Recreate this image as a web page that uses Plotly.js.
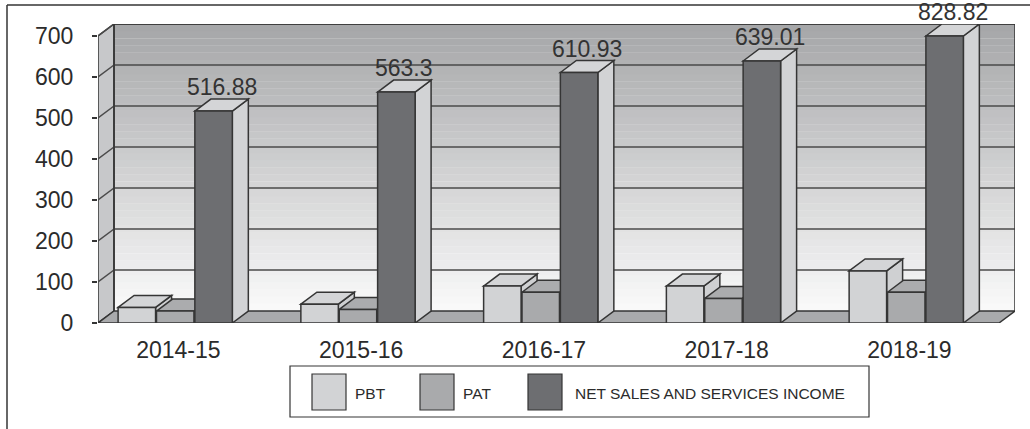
<!DOCTYPE html>
<html><head><meta charset="utf-8">
<script src="https://cdn.plot.ly/plotly-3.0.1.min.js"></script>
<style>html,body{margin:0;padding:0;background:#fff;} #chart{width:1030px;height:429px;}</style>
</head><body><div id="chart"></div>
<script>
// ---- data ----
const categories = ['2014-15','2015-16','2016-17','2017-18','2018-19'];
const pbt = [38, 46, 90, 90, 127];
const pat = [29, 33, 75, 60, 75];
const netSales = [516.88, 563.3, 610.93, 639.01, 828.82];
const netLabels = ['516.88','563.3','610.93','639.01','828.82'];
const seriesNames = ['PBT','PAT','NET SALES AND SERVICES INCOME'];
const yTicks = [0,100,200,300,400,500,600,700];

// ---- styling / geometry ----
const W=1030, H=429, mL=98, mR=15, mT=24, mB=106;
const plotW = W-mL-mR, plotH = H-mT-mB;
const yMax = 700;
const DYpx = 12, DXpx = 16;
const pxPerY = (plotH-DYpx)/yMax;
const DY = DYpx/pxPerY;
const yTop = yMax + DY;
const xL = -0.44, xF = 4.49;
const pxPerX = (plotW-DXpx)/(xF-xL);
const DX = DXpx/pxPerX;
const bw = 0.205, step = 0.21, start = -0.33;
const line = '#353535';
const front = ['#d2d3d5','#a9aaac','#6d6e71'];
const topc  = ['#d4d5d7','#abacae','#d4d5d7'];
const sidec = ['#cfd0d2','#a6a7a9','#d2d3d5'];
const series = [pbt, pat, netSales];
const font = 'Liberation Sans, Arial, sans-serif';

const px2paperX = p => (p-mL)/plotW;
const px2paperY = p => (mT+plotH-p)/plotH;

const shapes = [];
// back wall gradient bands
const nb = 40;
const c0=[165,166,168], c1=[250,250,250];
for(let i=0;i<nb;i++){
  const t=(i+0.5)/nb;
  const c=c1.map((v,k)=>Math.round(v+(c0[k]-v)*t));
  shapes.push({type:'rect',layer:'below',xref:'x',yref:'y',x0:xL+DX,x1:xF+DX,
    y0:DY+(yTop-DY)*i/nb,y1:DY+(yTop-DY)*(i+1)/nb+0.5,
    fillcolor:`rgb(${c.join(',')})`,line:{width:0}});
}
// left wall
shapes.push({type:'path',layer:'below',xref:'x',yref:'y',
  path:`M${xL},0 L${xL+DX},${DY} L${xL+DX},${yTop} L${xL},${yMax} Z`,
  fillcolor:'#c7c8ca',line:{color:line,width:1.5}});
// gridlines
yTicks.forEach(v=>{
  if(v===0) return;
  shapes.push({type:'line',layer:'below',xref:'x',yref:'y',x0:xL+DX,x1:xF+DX,y0:v+DY,y1:v+DY,line:{color:'#4a4a4a',width:1.5}});
  shapes.push({type:'line',layer:'below',xref:'x',yref:'y',x0:xL,x1:xL+DX,y0:v,y1:v+DY,line:{color:'#4a4a4a',width:1.5}});
});
// back wall outline
shapes.push({type:'path',layer:'below',xref:'x',yref:'y',
  path:`M${xL+DX},${DY} L${xL+DX},${yTop} L${xF+DX},${yTop} L${xF+DX},${DY}`,
  line:{color:line,width:1.5}});
// floor
shapes.push({type:'path',layer:'below',xref:'x',yref:'y',
  path:`M${xL},0 L${xL+DX},${DY} L${xF+DX},${DY} L${xF},0 Z`,
  fillcolor:'#a9aaac',line:{color:line,width:1.5}});
// bar tops & sides (painter's order, left to right)
categories.forEach((c,i)=>{
  series.forEach((s,k)=>{
    const h = Math.min(s[i], yMax);
    const x0 = i+start+k*step, x1 = x0+bw;
    shapes.push({type:'path',layer:'below',xref:'x',yref:'y',
      path:`M${x1},0 L${x1+DX},${DY} L${x1+DX},${h+DY} L${x1},${h} Z`,
      fillcolor:sidec[k],line:{color:line,width:1.5}});
    shapes.push({type:'path',layer:'below',xref:'x',yref:'y',
      path:`M${x0},${h} L${x0+DX},${h+DY} L${x1+DX},${h+DY} L${x1},${h} Z`,
      fillcolor:topc[k],line:{color:line,width:1.5}});
  });
});
// outer frame (top and left lines)
shapes.push({type:'line',xref:'paper',yref:'paper',x0:px2paperX(7),x1:px2paperX(1030),y0:px2paperY(5),y1:px2paperY(5),line:{color:line,width:1.5}});
shapes.push({type:'line',xref:'paper',yref:'paper',x0:px2paperX(7),x1:px2paperX(7),y0:px2paperY(5),y1:px2paperY(429),line:{color:line,width:1.5}});
// legend box
shapes.push({type:'rect',xref:'paper',yref:'paper',x0:px2paperX(290),x1:px2paperX(869),y0:px2paperY(366),y1:px2paperY(417),line:{color:line,width:1.2},fillcolor:'rgba(0,0,0,0)'});
const legSq = [312, 420, 528];
const legTx = [353, 461, 573];
const annotations = [];
seriesNames.forEach((n,k)=>{
  shapes.push({type:'rect',xref:'paper',yref:'paper',x0:px2paperX(legSq[k]),x1:px2paperX(legSq[k]+34),
    y0:px2paperY(374),y1:px2paperY(410),fillcolor:front[k],line:{color:line,width:1.2}});
  annotations.push({xref:'paper',yref:'paper',x:px2paperX(legTx[k]),y:px2paperY(393),text:n,showarrow:false,
    xanchor:'left',yanchor:'middle',font:{family:font,size:15.5,color:'#2b2b2b'}});
});
// value labels for net sales
netSales.forEach((v,i)=>{
  const x0 = i+start+2*step;
  annotations.push({xref:'x',yref:'y',x:x0+bw/2+DX/2,y:Math.min(v,yMax)+DY,yanchor:'bottom',yshift:-3,
    text:netLabels[i],showarrow:false,font:{family:font,size:23,color:'#333'}});
});

const traces = series.map((s,k)=>({
  type:'bar', name:seriesNames[k], x:categories.map((c,i)=>i),
  y:s.map(v=>Math.min(v,yMax)), customdata:s,
  hovertemplate:'%{customdata}<extra>'+seriesNames[k]+'</extra>',
  width:bw, offset:start+k*step,
  marker:{color:front[k],line:{color:line,width:1.5}},
  showlegend:false, cliponaxis:true
}));

const layout = {
  width:W, height:H, margin:{l:mL,r:mR,t:mT,b:mB},
  paper_bgcolor:'#fff', plot_bgcolor:'rgba(0,0,0,0)',
  barmode:'overlay', showlegend:false,
  xaxis:{type:'linear',range:[xL,xF+DX],tickvals:categories.map((c,i)=>i),ticktext:categories,
    showgrid:false,zeroline:false,showline:false,ticks:'',ticklabelstandoff:11,
    tickfont:{family:font,size:23,color:'#2b2b2b'},fixedrange:true},
  yaxis:{range:[0,yTop],tickvals:yTicks,ticktext:yTicks.map(String),showgrid:false,zeroline:false,
    showline:false,ticks:'outside',ticklen:5,tickcolor:line,tickwidth:1.5,ticklabelstandoff:14,
    tickfont:{family:font,size:23,color:'#2b2b2b'},fixedrange:true},
  shapes:shapes, annotations:annotations
};
Plotly.newPlot('chart', traces, layout, {displayModeBar:false, staticPlot:true});
</script>
</body></html>
